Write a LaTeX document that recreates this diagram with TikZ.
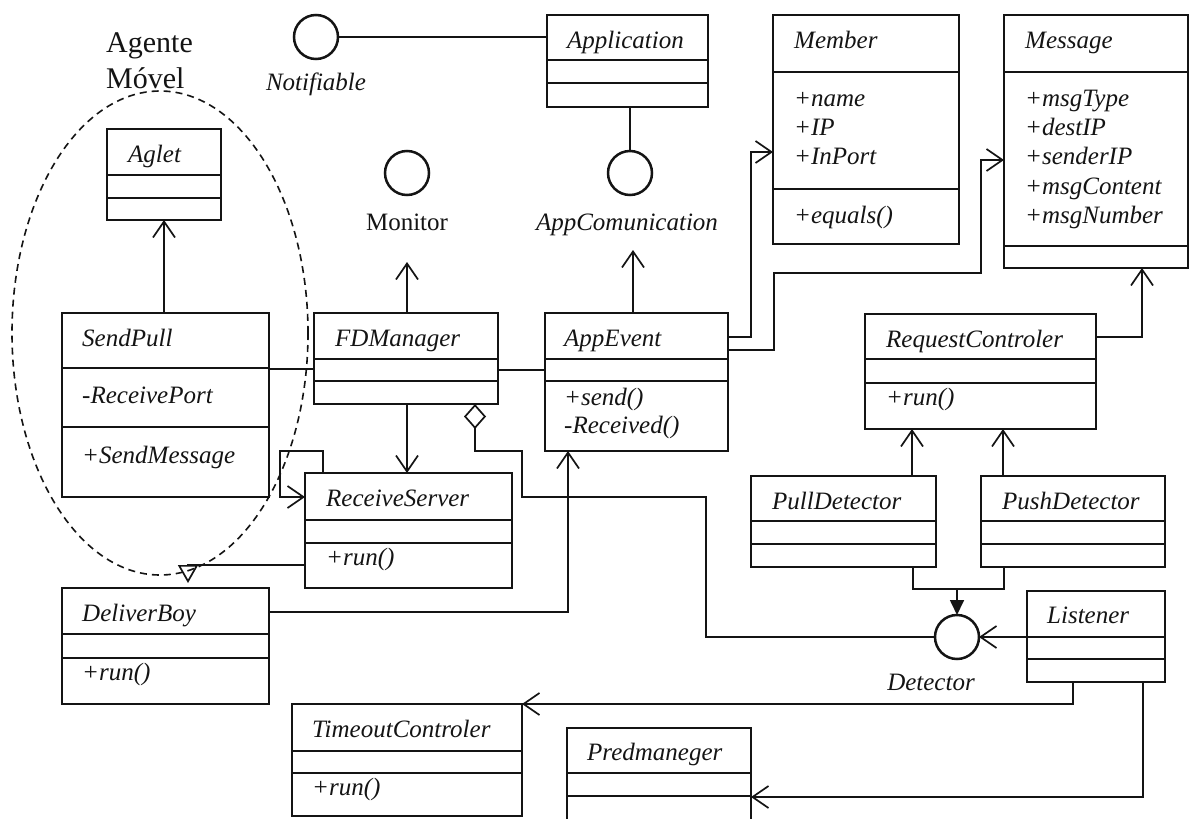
\documentclass[tikz,border=0pt]{standalone}
\usepackage{fontspec}
\setmainfont{Liberation Serif}
\usetikzlibrary{arrows.meta,calc}

\colorlet{ink}{black!92}
\tikzset{
  classbox/.style={draw=ink, line width=1.7pt, inner sep=0pt, outer sep=0pt, anchor=north west},
  divider/.style={draw=ink, line width=1.7pt},
  lbl/.style={inner sep=0pt, anchor=base west, text=ink, font=\fontsize{25}{30}\selectfont\itshape},
  ifacelbl/.style={inner sep=0pt, anchor=base, text=ink, font=\fontsize{25}{30}\selectfont\itshape},
  grouplbl/.style={inner sep=0pt, anchor=base west, text=ink, font=\fontsize{30}{36}\selectfont},
  iface/.style={circle, draw=ink, line width=2.5pt, minimum size=44pt, inner sep=0pt, outer sep=0pt},
  conn/.style={draw=ink, line width=1.7pt},
  nav/.style={conn, -{Straight Barb[length=16pt,width=22pt]}},
  gen/.style={conn, -{Triangle[open,length=18pt,width=20pt]}},
  real/.style={conn, -{Triangle[length=15pt,width=14pt]}},
  aggr/.style={conn, {Diamond[open,length=25pt,width=22pt]}-},
  agentzone/.style={draw=ink, line width=1.6pt, dash pattern=on 7pt off 5pt},
}

% UML class box: name, left, top, right, bottom, first divider, second divider
\newcommand\umlclass[7]{%
  \node[classbox, minimum width={#4pt-#2pt}, minimum height={#5pt-#3pt}] (#1) at (#2,#3) {};
  \draw[divider] (#1.west |- 0,#6) -- (#1.east |- 0,#6);
  \draw[divider] (#1.west |- 0,#7) -- (#1.east |- 0,#7);
}

\begin{document}
\begin{tikzpicture}[x=1pt,y=-1pt]
\useasboundingbox (0,0) rectangle (1194,819);
\fill[white] (0,0) rectangle (1194,819);

% mobile agent zone
\node[grouplbl] (zoneA) at (106,52) {Agente};
\node[grouplbl] (zoneB) at (106,88) {Móvel};
\draw[agentzone] (160,333) ellipse [x radius=148, y radius=242];

% classes
\umlclass{Aglet}{107}{129}{221}{220}{175}{198}
\umlclass{Application}{547}{15}{708}{107}{60}{83}
\umlclass{Member}{773}{15}{959}{244}{72}{189}
\umlclass{Message}{1004}{15}{1188}{268}{72}{246}
\umlclass{SendPull}{62}{313}{269}{497}{368}{427}
\umlclass{FDManager}{314}{313}{498}{404}{359}{381}
\umlclass{AppEvent}{545}{313}{728}{451}{359}{381}
\umlclass{ReceiveServer}{305}{473}{512}{588}{520}{543}
\umlclass{RequestControler}{865}{314}{1096}{429}{359}{383}
\umlclass{PullDetector}{751}{476}{936}{567}{521}{544}
\umlclass{PushDetector}{981}{476}{1165}{567}{521}{544}
\umlclass{Listener}{1027}{591}{1165}{682}{637}{659}
\umlclass{DeliverBoy}{62}{588}{269}{704}{634}{658}
\umlclass{TimeoutControler}{292}{704}{522}{816}{751}{773}
\umlclass{Predmaneger}{567}{728}{751}{822}{773}{796}

% class names
\node[lbl] (AgletName) at (128,162) {Aglet};
\node[lbl] (ApplicationName) at (567,48) {Application};
\node[lbl] (MemberName) at (794,48) {Member};
\node[lbl] (MessageName) at (1025,48) {Message};
\node[lbl] (SendPullName) at (82,346) {SendPull};
\node[lbl] (FDManagerName) at (335,346) {FDManager};
\node[lbl] (AppEventName) at (564,346) {AppEvent};
\node[lbl] (ReceiveServerName) at (326,506) {ReceiveServer};
\node[lbl] (RequestControlerName) at (886,347) {RequestControler};
\node[lbl] (PullDetectorName) at (772,509) {PullDetector};
\node[lbl] (PushDetectorName) at (1002,509) {PushDetector};
\node[lbl] (ListenerName) at (1047,623) {Listener};
\node[lbl] (DeliverBoyName) at (82,621) {DeliverBoy};
\node[lbl] (TimeoutControlerName) at (312,737) {TimeoutControler};
\node[lbl] (PredmanegerName) at (587,760) {Predmaneger};

% attributes and operations
\node[lbl] (mName) at (794,106) {+name};
\node[lbl] (mIP) at (794,135) {+IP};
\node[lbl] (mInPort) at (794,164) {+InPort};
\node[lbl] (mEquals) at (794,223) {+equals()};
\node[lbl] (gType) at (1025,106) {+msgType};
\node[lbl] (gDest) at (1025,135) {+destIP};
\node[lbl] (gSender) at (1025,164) {+senderIP};
\node[lbl] (gContent) at (1025,194) {+msgContent};
\node[lbl] (gNumber) at (1025,223) {+msgNumber};
\node[lbl] (spPort) at (82,403) {-ReceivePort};
\node[lbl] (spSend) at (82,463) {+SendMessage};
\node[lbl] (aeSend) at (564,405) {+send()};
\node[lbl] (aeRecv) at (564,433) {-Received()};
\node[lbl] (rsRun) at (326,565) {+run()};
\node[lbl] (rcRun) at (886,405) {+run()};
\node[lbl] (dbRun) at (82,680) {+run()};
\node[lbl] (tcRun) at (312,795) {+run()};

% interfaces
\node[iface] (Notifiable) at (316,37) {};
\node[ifacelbl] (NotifiableLbl) at (316,90) {Notifiable};
\node[iface] (Monitor) at (407,173) {};
\node[ifacelbl, font=\fontsize{25}{30}\selectfont] (MonitorLbl) at (407,230) {Monitor};
\node[iface] (AppCom) at (630,173) {};
\node[ifacelbl] (AppComLbl) at (627,230) {AppComunication};
\node[iface] (Detector) at (957,637) {};
\node[ifacelbl] (DetectorLbl) at (931,690) {Detector};

% free ends of the interface dependencies
\coordinate (MonitorTip) at (407,262);
\coordinate (AppComTip) at (633,250);

% connectors
\draw[conn] (Notifiable.east) -- (Application.west |- Notifiable.east);
\draw[conn] (AppCom.north |- Application.south) -- (AppCom.north);
\draw[nav] (Aglet.south |- SendPull.north) -- (Aglet.south);
\draw[conn] (SendPull.east |- 0,369) -- (FDManager.west |- 0,369);
\draw[conn] (FDManager.east |- 0,370) -- (AppEvent.west |- 0,370);
\draw[nav] (MonitorTip |- FDManager.north) -- (MonitorTip);
\draw[nav] (AppComTip |- AppEvent.north) -- (AppComTip);
\draw[nav] (MonitorTip |- FDManager.south) -- (MonitorTip |- ReceiveServer.north);
\draw[aggr] (475,0 |- FDManager.south) -- (475,451) -- (522,451) -- (522,497) -- (706,497) |- (Detector.west);
\draw[nav] (323,0 |- ReceiveServer.north) -- (323,451) -- (280,451) -- (280,497) -- (ReceiveServer.west |- 0,497);
\draw[gen, shorten >=5pt] (ReceiveServer.west |- 0,565) -| (188,0 |- DeliverBoy.north);
\draw[nav] (DeliverBoy.east |- 0,612) -| (568,0 |- AppEvent.south);
\draw[nav] (AppEvent.east |- 0,337) -- (751,337) |- (Member.west |- 0,152);
\draw[nav] (AppEvent.east |- 0,350) -- (774,350) -- (774,273) -- (981,273) |- (Message.west |- 0,160);
\draw[nav] (RequestControler.east |- 0,337) -| (1142,0 |- Message.south);
\draw[nav] (912,0 |- PullDetector.north) -- (912,0 |- RequestControler.south);
\draw[nav] (1003,0 |- PushDetector.north) -- (1003,0 |- RequestControler.south);
\draw[conn] (913,0 |- PullDetector.south) |- (1004,589) -- (1004,0 |- PushDetector.south);
\draw[real] (Detector.north |- 0,589) -- (Detector.north);
\draw[nav] (Listener.west |- Detector.east) -- (Detector.east);
\draw[nav] (1073,0 |- Listener.south) |- (TimeoutControler.north east);
\draw[nav] (1143,0 |- Listener.south) |- (Predmaneger.east |- 0,797);
\end{tikzpicture}
\end{document}
